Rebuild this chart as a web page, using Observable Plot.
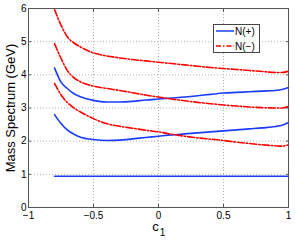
<!DOCTYPE html>
<html><head><meta charset="utf-8">
<script src="https://cdn.jsdelivr.net/npm/d3@7"></script>
<script src="https://cdn.jsdelivr.net/npm/@observablehq/plot@0.6"></script>
<style>
body{margin:0;background:#fff}
#chart{position:relative;width:295px;height:241px}
#chart svg{font-family:"Liberation Sans",Arial,Helvetica,sans-serif}
</style>
</head><body><div id="chart"></div>
<script>
// x values (c1)
const c1 = [-0.8, -0.75, -0.7, -0.65, -0.6, -0.5, -0.4, -0.3, -0.2, -0.1, 0, 0.1, 0.2, 0.3, 0.4, 0.5, 0.6, 0.7, 0.8, 0.9, 0.95, 1];

// N(+) states (GeV)
const nPlusGround = [0.94, 0.94, 0.94, 0.94, 0.94, 0.94, 0.94, 0.94, 0.94, 0.94, 0.94, 0.94, 0.94, 0.94, 0.94, 0.94, 0.94, 0.94, 0.94, 0.94, 0.94, 0.94];
const nPlusFirst  = [2.80, 2.53, 2.33, 2.21, 2.12, 2.05, 2.02, 2.03, 2.07, 2.11, 2.15, 2.19, 2.22, 2.25, 2.28, 2.31, 2.34, 2.37, 2.40, 2.44, 2.48, 2.56];
const nPlusSecond = [4.21, 3.78, 3.58, 3.43, 3.34, 3.23, 3.18, 3.18, 3.20, 3.24, 3.27, 3.30, 3.33, 3.37, 3.41, 3.45, 3.47, 3.49, 3.51, 3.53, 3.56, 3.62];

// N(-) states (GeV)
const nMinusFirst  = [3.74, 3.40, 3.16, 3.00, 2.88, 2.68, 2.53, 2.45, 2.39, 2.33, 2.28, 2.21, 2.15, 2.10, 2.06, 2.02, 1.97, 1.93, 1.89, 1.86, 1.85, 1.89];
const nMinusSecond = [4.94, 4.50, 4.12, 3.91, 3.79, 3.66, 3.59, 3.53, 3.46, 3.39, 3.33, 3.27, 3.22, 3.17, 3.13, 3.09, 3.06, 3.03, 3.01, 3.00, 3.00, 3.04];
const nMinusThird  = [5.97, 5.50, 5.14, 4.96, 4.84, 4.66, 4.57, 4.51, 4.46, 4.42, 4.38, 4.34, 4.30, 4.26, 4.22, 4.19, 4.16, 4.13, 4.10, 4.07, 4.07, 4.11];

const seriesNames = ["N(+)", "N(\u2212)"];
const xTicks = [-1, -0.5, 0, 0.5, 1];
const xTickLabels = ["\u22121", "\u22120.5", "0", "0.5", "1"];
const yTicks = [0, 1, 2, 3, 4, 5, 6];
const yTickLabels = ["0", "1", "2", "3", "4", "5", "6"];
const xGrid = [-0.5, 0, 0.5];
const yGrid = [1, 2, 3, 4, 5];
const xLabel = "c";
const xLabelSub = "1";
const yLabel = "Mass Spectrum (GeV)";

const curves = [
  {id: "p0", series: seriesNames[0], vals: nPlusGround},
  {id: "p1", series: seriesNames[0], vals: nPlusFirst},
  {id: "p2", series: seriesNames[0], vals: nPlusSecond},
  {id: "m1", series: seriesNames[1], vals: nMinusFirst},
  {id: "m2", series: seriesNames[1], vals: nMinusSecond},
  {id: "m3", series: seriesNames[1], vals: nMinusThird}
];
const rows = [];
for (const cv of curves) c1.forEach((x, i) => rows.push({x, y: cv.vals[i], id: cv.id, series: cv.series}));

const BLUE = "#1a3cff", RED = "#ff0000", DASH = "7,2,1.5,2";
const FONT = '"Liberation Sans",Arial,Helvetica,sans-serif';

const legendMark = (index, scales, values, dims) => {
  const g = d3.create("svg:g");
  const right = dims.width - dims.marginRight - 29;
  const w = 46, h = 28, left = right - w, top = dims.marginTop + 16;
  g.append("rect").attr("x", left + 0.5).attr("y", top + 0.5).attr("width", w).attr("height", h)
    .attr("fill", "#fff").attr("stroke", "#444").attr("stroke-width", 1);
  const items = [{name: seriesNames[0], color: BLUE, dash: null}, {name: seriesNames[1], color: RED, dash: "5,2,1.5,2"}];
  items.forEach((it, i) => {
    const yy = top + 7 + i * 15;
    g.append("line").attr("x1", left + 3).attr("x2", left + 21).attr("y1", yy).attr("y2", yy)
      .attr("stroke", it.color).attr("stroke-width", 1.5).attr("stroke-dasharray", it.dash);
    g.append("text").attr("x", left + 22).attr("y", yy).attr("dy", "0.35em")
      .attr("text-anchor", "start")
      .attr("font-size", 10).attr("font-family", FONT).attr("fill", "#000").text(it.name);
  });
  return g.node();
};

const plot = Plot.plot({
  width: 295,
  height: 241,
  marginTop: 8,
  marginBottom: 34,
  marginLeft: 28,
  marginRight: 7,
  style: {fontFamily: FONT, fontSize: "10px", color: "#000", background: "#fff"},
  x: {domain: [-1, 1]},
  y: {domain: [0, 6]},
  marks: [
    Plot.gridX(xGrid, {stroke: "#b0b0b0", strokeOpacity: 1, strokeDasharray: "1,2"}),
    Plot.gridY(yGrid, {stroke: "#b0b0b0", strokeOpacity: 1, strokeDasharray: "1,2"}),
    Plot.line(rows.filter(d => d.series === seriesNames[0]), {x: "x", y: "y", z: "id", stroke: BLUE, strokeWidth: 1.6, curve: "monotone-x"}),
    Plot.line(rows.filter(d => d.series === seriesNames[1]), {x: "x", y: "y", z: "id", stroke: RED, strokeWidth: 1.6, strokeDasharray: DASH, curve: "monotone-x"}),
    Plot.frame({stroke: "#555", strokeWidth: 1}),
    Plot.axisX(xTicks, {anchor: "bottom", tickSize: -3, tickPadding: 7, label: null, stroke: "#555", fontSize: 10,
      tickFormat: (d, i) => xTickLabels[xTicks.indexOf(d)]}),
    Plot.axisX(xTicks, {anchor: "top", tickSize: -3, text: null, label: null, stroke: "#555"}),
    Plot.axisY(yTicks, {anchor: "left", tickSize: -3, tickPadding: 5, label: null, stroke: "#555", fontSize: 10,
      tickFormat: d => yTickLabels[yTicks.indexOf(d)]}),
    Plot.axisY(yTicks, {anchor: "right", tickSize: -3, text: null, label: null, stroke: "#555"}),
    Plot.text([yLabel], {frameAnchor: "left", text: d => d, rotate: -90, dx: -18, fontSize: 13, textAnchor: "middle", fill: "#000"}),
    Plot.text([xLabel], {frameAnchor: "bottom", text: d => d, dx: -3, dy: 23, fontSize: 13, fill: "#000"}),
    Plot.text([xLabelSub], {frameAnchor: "bottom", text: d => d, dx: 4, dy: 28, fontSize: 10, fill: "#000"}),
    legendMark
  ]
});
document.getElementById("chart").appendChild(plot);
</script>
</body></html>
